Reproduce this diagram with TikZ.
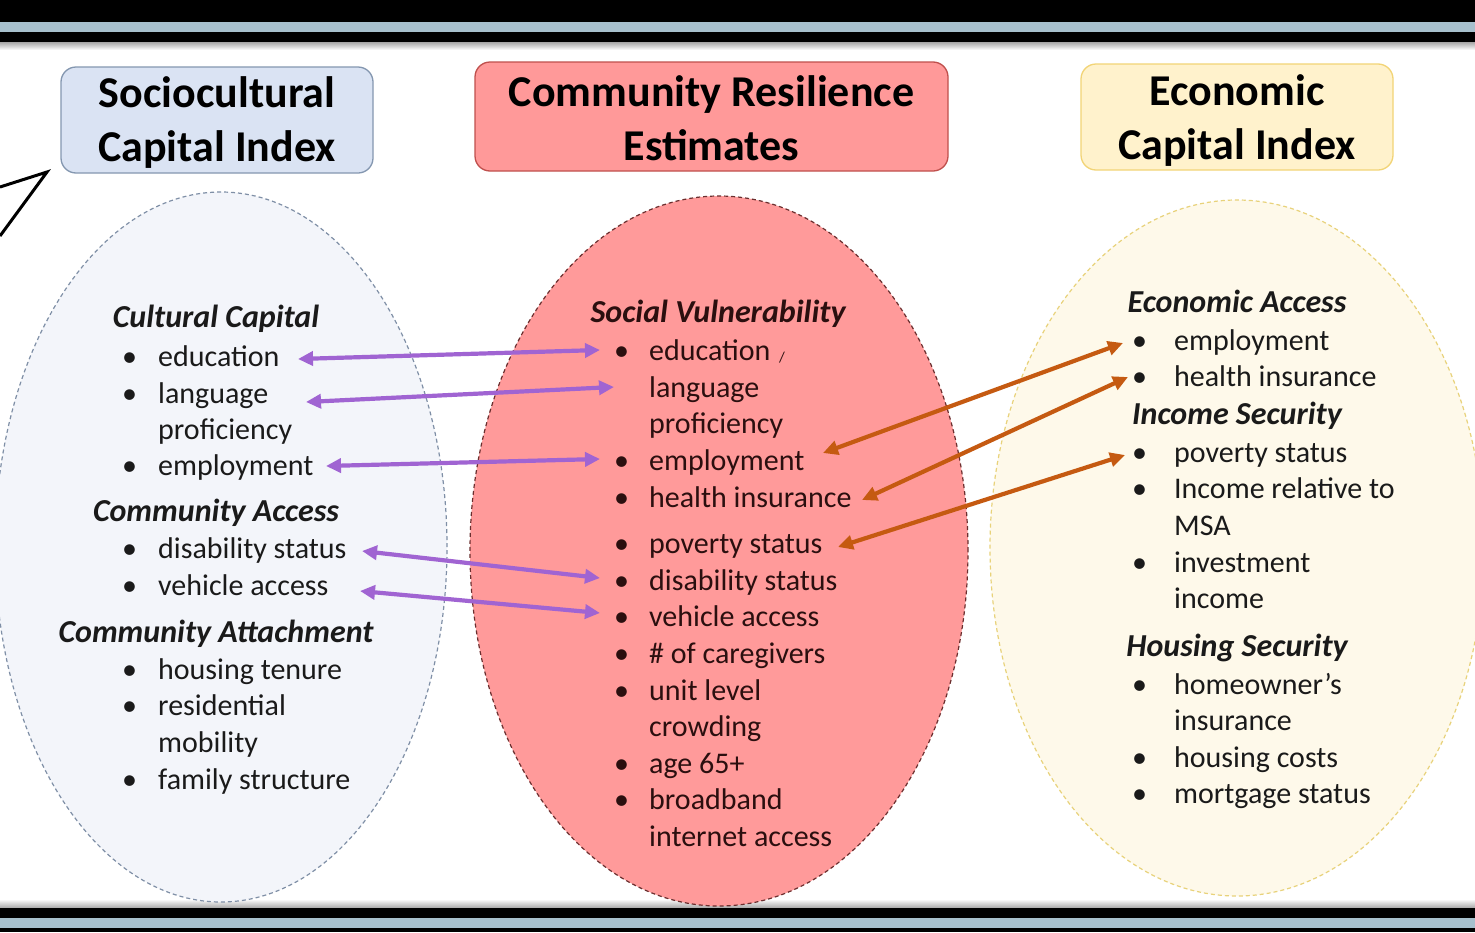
\documentclass[tikz,border=0pt]{standalone}
\usepackage{fontspec}
\setmainfont{Carlito}
\usetikzlibrary{arrows.meta,shapes.geometric}
\definecolor{barblue}{HTML}{A7C0CD}
\definecolor{lbfill}{HTML}{DAE3F3}
\definecolor{lbdraw}{HTML}{8497B0}
\definecolor{mbfill}{HTML}{FF9999}
\definecolor{mbdraw}{HTML}{C0504D}
\definecolor{rbfill}{HTML}{FFF2CC}
\definecolor{rbdraw}{HTML}{F2D476}
\definecolor{lefill}{HTML}{F3F5FA}
\definecolor{ledraw}{HTML}{7F8FA6}
\definecolor{mefill}{HTML}{FF9A9A}
\definecolor{medraw}{HTML}{6B2E2E}
\definecolor{refill}{HTML}{FEF9EA}
\definecolor{redraw}{HTML}{E8D27A}
\definecolor{purp}{HTML}{A064D2}
\definecolor{oran}{HTML}{C55A11}
\definecolor{ltext}{HTML}{1A1A1A}
\definecolor{mtext}{HTML}{2B0F0F}
\newcommand\bulx[1]{\makebox[#1][l]{•}}
\begin{document}
\begin{tikzpicture}[x=1pt,y=-1pt,
  hbox/.style={draw, line width=1.3pt, rounded corners=15pt, inner sep=0pt},
  htext/.style={inner sep=0pt, align=center, font=\fontsize{44}{54}\selectfont\bfseries},
  ell/.style={ellipse, draw, dashed, dash pattern=on 4pt off 3pt, line width=1.2pt},
  subhd/.style={anchor=base, inner sep=0pt, font=\fontsize{32}{38}\selectfont\bfseries\itshape},
  itm/.style={anchor=base west, inner sep=0pt, font=\fontsize{30}{36}\selectfont},
  parrow/.style={draw=purp, line width=4.2pt, {Triangle[length=15pt,width=14pt]}-{Triangle[length=15pt,width=14pt]}},
  oarrow/.style={draw=oran, line width=4.2pt, {Triangle[length=15pt,width=14pt]}-{Triangle[length=15pt,width=14pt]}}
]
\useasboundingbox (0,0) rectangle (1475,932);
\fill[white] (0,0) rectangle (1475,932);
% frame bars
\fill[black] (0,0) rectangle (1475,22);
\fill[barblue] (0,22) rectangle (1475,32);
\fill[black] (0,32) rectangle (1475,42);
\shade[top color=gray!70, bottom color=white] (0,42) rectangle (1475,50);
\shade[top color=white, bottom color=gray!70] (0,899) rectangle (1475,908);
\fill[black] (0,908) rectangle (1475,918);
\fill[barblue] (0,918) rectangle (1475,928);
\fill[black] (0,928) rectangle (1475,932);
% chevron at top left
\draw[line width=3pt, line join=miter] (0,187) -- (47,172) -- (0,236);

% ellipses
\node[ell, fill=lefill, draw=ledraw, minimum width=452pt, minimum height=710pt] (lell) at (221,547) {};
\node[ell, fill=mefill, draw=medraw, minimum width=498pt, minimum height=710pt] (mell) at (719,551) {};
\node[ell, fill=refill, draw=redraw, minimum width=494pt, minimum height=696pt] (rell) at (1237,548) {};

% header boxes
\node[hbox, fill=lbfill, draw=lbdraw, minimum width=312pt, minimum height=106pt] (lbox) at (217,120) {};
\node[hbox, fill=mbfill, draw=mbdraw, minimum width=473pt, minimum height=109pt] (mbox) at (711.5,116.5) {};
\node[hbox, fill=rbfill, draw=rbdraw, minimum width=312pt, minimum height=106pt] (rbox) at (1237,117) {};
\node[htext] (ltitle) at ([yshift=-3]lbox.center) {Sociocultural\\Capital Index};
\node[htext] (mtitle) at ([yshift=-2]mbox.center) {Community Resilience\\Estimates};
\node[htext] (rtitle) at ([yshift=-4]rbox.center) {Economic\\Capital Index};

% left texts
\begin{scope}[every node/.append style={text=ltext}]
\node[subhd] (lh1) at (216,327) {Cultural Capital};
\node[itm] (l1) at (122,366) {\bulx{36pt}education};
\node[itm] (l2) at (122,403) {\bulx{36pt}language};
\node[itm] (l2b) at (158,439) {proficiency};
\node[itm] (l3) at (122,475) {\bulx{36pt}employment};
\node[subhd] (lh2) at (216,521) {Community Access};
\node[itm] (l4) at (122,558) {\bulx{36pt}disability status};
\node[itm] (l5) at (122,595) {\bulx{36pt}vehicle access};
\node[subhd] (lh3) at (216,642) {Community Attachment};
\node[itm] (l6) at (122,679) {\bulx{36pt}housing tenure};
\node[itm] (l7) at (122,715) {\bulx{36pt}residential};
\node[itm] (l7b) at (158,752) {mobility};
\node[itm] (l8) at (122,789) {\bulx{36pt}family structure};
\end{scope}

% middle texts
\begin{scope}[every node/.append style={text=mtext}]
\node[subhd] (mh) at (718,322) {Social Vulnerability};
\node[itm] (m1) at (614,360) {\bulx{35pt}education};
\node[inner sep=0pt, font=\fontsize{15}{15}\selectfont] (mslash) at (782,358) {/};
\node[itm] (m2) at (649,397) {language};
\node[itm] (m2b) at (649,433) {proficiency};
\node[itm] (m3) at (614,470) {\bulx{35pt}employment};
\node[itm] (m4) at (614,507) {\bulx{35pt}health insurance};
\node[itm] (m5) at (614,553) {\bulx{35pt}poverty status};
\node[itm] (m6) at (614,590) {\bulx{35pt}disability status};
\node[itm] (m7) at (614,626) {\bulx{35pt}vehicle access};
\node[itm] (m8) at (614,663) {\bulx{35pt}\# of caregivers};
\node[itm] (m9) at (614,700) {\bulx{35pt}unit level};
\node[itm] (m9b) at (649,736) {crowding};
\node[itm] (m10) at (614,773) {\bulx{35pt}age 65+};
\node[itm] (m11) at (614,809) {\bulx{35pt}broadband};
\node[itm] (m11b) at (649,846) {internet access};
\end{scope}

% right texts
\begin{scope}[every node/.append style={text=ltext}]
\node[subhd] (rh1) at (1237,312) {Economic Access};
\node[itm] (r1) at (1132,350) {\bulx{42pt}employment};
\node[itm] (r2) at (1132,386) {\bulx{42pt}health insurance};
\node[subhd] (rh2) at (1237,424) {Income Security};
\node[itm] (r3) at (1132,462) {\bulx{42pt}poverty status};
\node[itm] (r4) at (1132,498) {\bulx{42pt}Income relative to};
\node[itm] (r4b) at (1174,535) {MSA};
\node[itm] (r5) at (1132,572) {\bulx{42pt}investment};
\node[itm] (r5b) at (1174,608) {income};
\node[subhd] (rh3) at (1237,656) {Housing Security};
\node[itm] (r6) at (1132,694) {\bulx{42pt}homeowner’s};
\node[itm] (r6b) at (1174,730) {insurance};
\node[itm] (r7) at (1132,767) {\bulx{42pt}housing costs};
\node[itm] (r8) at (1132,803) {\bulx{42pt}mortgage status};
\end{scope}

% purple connectors
\draw[parrow] ([shift={(176,-7)}]l1.base west) -- ([shift={(-14,-10)}]m1.base west);
\draw[parrow] ([shift={(184,-1)}]l2.base west) -- ([shift={(-35,-10)}]m2.base west);
\draw[parrow] ([shift={(204,-9)}]l3.base west) -- ([shift={(-14,-11)}]m3.base west);
\draw[parrow] ([shift={(240,-7)}]l4.base west) -- ([shift={(-14,-12)}]m6.base west);
\draw[parrow] ([shift={(238,-4)}]l5.base west) -- ([shift={(-14,-13)}]m7.base west);

% orange connectors
\draw[oarrow] ([shift={(209,-17)}]m3.base west) -- ([shift={(-9,-7)}]r1.base west);
\draw[oarrow] ([shift={(248,-7)}]m4.base west) -- ([shift={(-4,-9)}]r2.base west);
\draw[oarrow] ([shift={(224,-6)}]m5.base west) -- ([shift={(-7,-7)}]r3.base west);
\end{tikzpicture}
\end{document}
